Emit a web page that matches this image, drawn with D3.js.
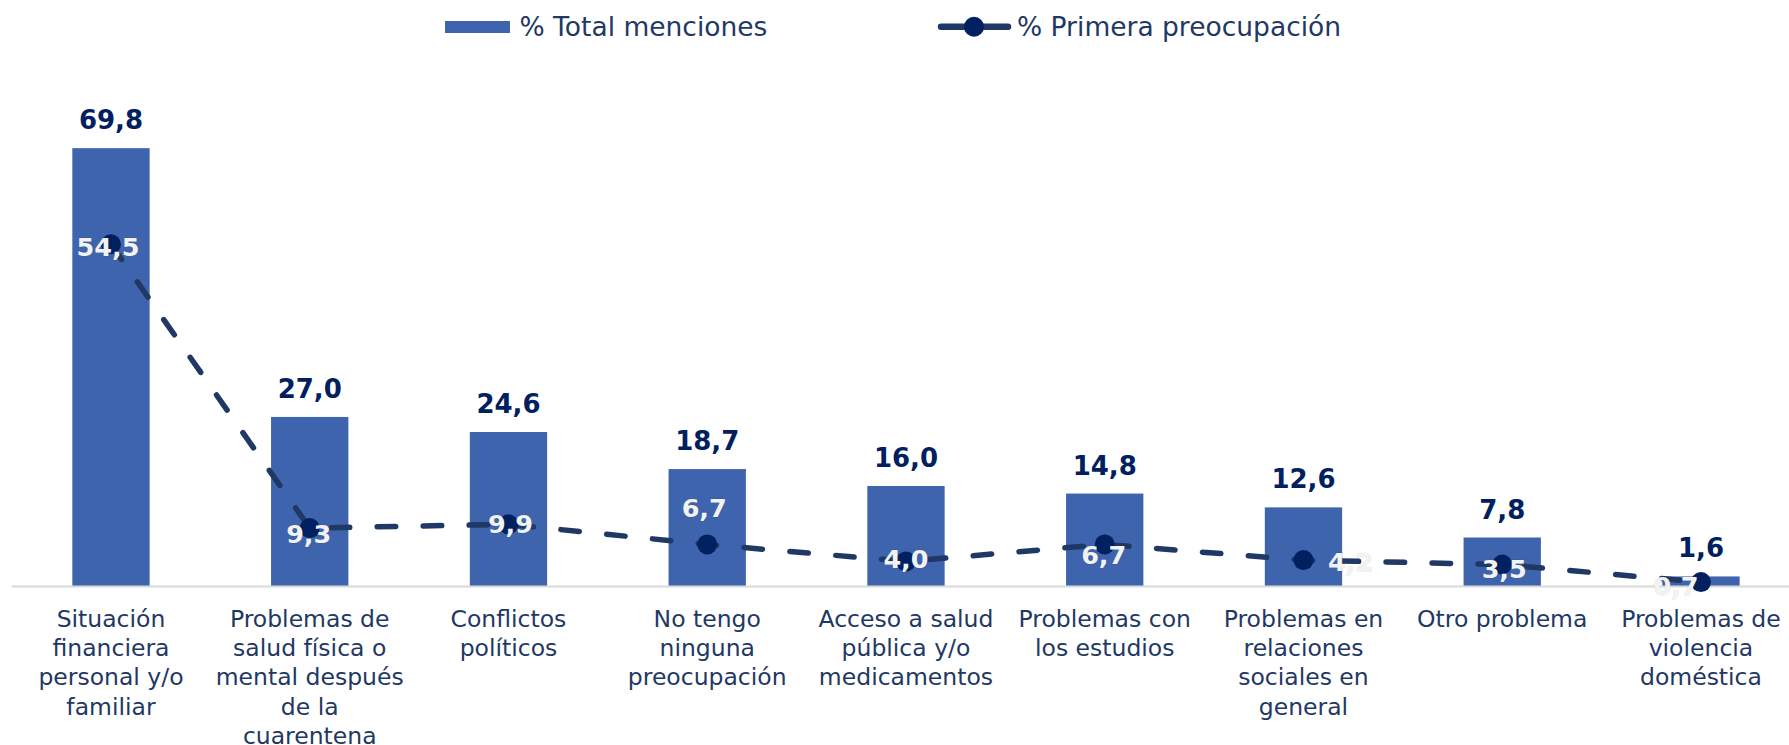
<!DOCTYPE html>
<html>
<head>
<meta charset="utf-8">
<script src="https://cdn.jsdelivr.net/npm/d3@7"></script>
<style>
  html, body { margin: 0; padding: 0; background: #ffffff; }
  svg { display: block; }
  text { font-family: "DejaVu Sans", Verdana, sans-serif; }
</style>
</head>
<body>
<svg id="chart" width="1789" height="745"></svg>
<script>
// ---- Data ----
const categories = [
  "Situación\nfinanciera\npersonal y/o\nfamiliar",
  "Problemas de\nsalud física o\nmental después\nde la\ncuarentena",
  "Conflictos\npolíticos",
  "No tengo\nninguna\npreocupación",
  "Acceso a salud\npública y/o\nmedicamentos",
  "Problemas con\nlos estudios",
  "Problemas en\nrelaciones\nsociales en\ngeneral",
  "Otro problema",
  "Problemas de\nviolencia\ndoméstica"
];
const totalMenciones = [69.8, 27.0, 24.6, 18.7, 16.0, 14.8, 12.6, 7.8, 1.6];
const primeraPreocupacion = [54.5, 9.3, 9.9, 6.7, 4.0, 6.7, 4.2, 3.5, 0.7];
const seriesNames = ["% Total menciones", "% Primera preocupación"];

// label placement offsets for the line series (relative to each point)
const lineLabelOffsets = [[-3, 12], [-1, 15], [2, 9], [-3, -27], [0, 7], [-1, 20], [47, 11], [2, 13], [-25, 13]];

// ---- Styles ----
const barColor = "#3d64ad";
const lineColor = "#1f3864";
const markerColor = "#002060";
const valueColor = "#002060";
const textColor = "#1f3864";

const svg = d3.select("#chart");
const fmt = v => d3.format(".1f")(v).replace(".", ",");

const baseline = 586.5;
const x = d3.scaleBand()
  .domain(d3.range(categories.length))
  .range([11.6, 11.6 + 198.75 * categories.length])
  .paddingInner(0.611)
  .paddingOuter(0.3055);
const y = d3.scaleLinear().domain([0, 70]).range([baseline, baseline - 70 * 6.28]);
const cx = i => x(i) + x.bandwidth() / 2;

// Bars
svg.append("g").selectAll("rect")
  .data(totalMenciones)
  .join("rect")
  .attr("x", (d, i) => x(i))
  .attr("y", d => y(d))
  .attr("width", x.bandwidth())
  .attr("height", d => y(0) - y(d))
  .attr("fill", barColor);

// Axis baseline
const xAxis = d3.axisBottom(x).tickSize(0).tickFormat("");
const axisG = svg.append("g").attr("transform", `translate(0,${baseline})`).call(xAxis);
axisG.select(".domain").attr("d", `M11.6,0H1789`).attr("stroke", "#d9d9d9").attr("stroke-width", 2);

// Category labels
const catG = svg.append("g");
categories.forEach((c, i) => {
  const t = catG.append("text")
    .attr("text-anchor", "middle")
    .attr("fill", textColor)
    .attr("font-size", 23.5);
  c.split("\n").forEach((line, k) => {
    t.append("tspan").attr("x", cx(i)).attr("y", 627 + k * 29.2).text(line);
  });
});

// Bar value labels
svg.append("g").selectAll("text")
  .data(totalMenciones)
  .join("text")
  .attr("x", (d, i) => cx(i))
  .attr("y", d => y(d) - 19)
  .attr("text-anchor", "middle")
  .attr("font-weight", "bold")
  .attr("font-size", 26)
  .attr("fill", valueColor)
  .text(d => fmt(d));

// Line
const line = d3.line().x((d, i) => cx(i)).y(d => y(d));
svg.append("path")
  .datum(primeraPreocupacion)
  .attr("d", line)
  .attr("fill", "none")
  .attr("stroke", lineColor)
  .attr("stroke-width", 5.5)
  .attr("stroke-linecap", "round")
  .attr("stroke-dasharray", "18.5,27.5");

// Markers
svg.append("g").selectAll("circle")
  .data(primeraPreocupacion)
  .join("circle")
  .attr("cx", (d, i) => cx(i))
  .attr("cy", d => y(d))
  .attr("r", 10)
  .attr("fill", markerColor);

// Line value labels
svg.append("g").selectAll("text")
  .data(primeraPreocupacion)
  .join("text")
  .attr("x", (d, i) => cx(i) + lineLabelOffsets[i][0])
  .attr("y", (d, i) => y(d) + lineLabelOffsets[i][1])
  .attr("text-anchor", "middle")
  .attr("font-weight", "bold")
  .attr("font-size", 25.5)
  .attr("fill", "#f2f2f2")
  .attr("stroke", "rgba(0,0,0,0.08)")
  .attr("stroke-width", 1.5)
  .attr("paint-order", "stroke")
  .text(d => fmt(d));

// Legend
const legend = svg.append("g");
legend.append("rect").attr("x", 445).attr("y", 21).attr("width", 65).attr("height", 12).attr("fill", barColor);
legend.append("text").attr("x", 519.5).attr("y", 35.5).attr("font-size", 26.5).attr("fill", textColor).text(seriesNames[0]);
legend.append("line").attr("x1", 941).attr("x2", 1008).attr("y1", 26.7).attr("y2", 26.7)
  .attr("stroke", lineColor).attr("stroke-width", 6.5).attr("stroke-linecap", "round");
legend.append("circle").attr("cx", 974).attr("cy", 26.7).attr("r", 10).attr("fill", markerColor);
legend.append("text").attr("x", 1017).attr("y", 35.5).attr("font-size", 26.5).attr("fill", textColor).text(seriesNames[1]);
</script>
</body>
</html>
